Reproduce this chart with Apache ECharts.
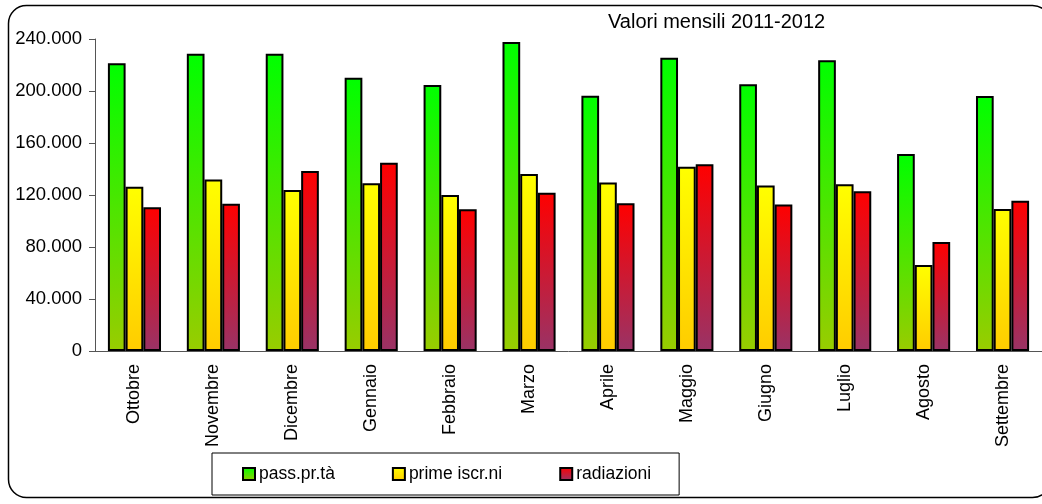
<!DOCTYPE html>
<html>
<head>
<meta charset="utf-8">
<script src="https://cdn.jsdelivr.net/npm/echarts@6/dist/echarts.min.js"></script>
<style>
  html, body { margin: 0; padding: 0; background: #fff; }
  #chart { width: 1042px; height: 504px; }
</style>
</head>
<body>
<div id="chart"></div>
<script>
// mesi (ottobre 2011 - settembre 2012)
var mesi = ['Ottobre', 'Novembre', 'Dicembre', 'Gennaio', 'Febbraio', 'Marzo',
            'Aprile', 'Maggio', 'Giugno', 'Luglio', 'Agosto', 'Settembre'];

// valori
var passaggi = [221300, 228700, 228700, 210200, 204600, 237700, 196400, 225600, 205100, 223600, 151500, 196200];
var primeIscr = [126400, 132000, 123800, 129000, 120000, 136200, 129700, 141800, 127400, 128200, 66200, 109200];
var radiazioni = [110500, 113300, 138500, 144800, 109000, 121800, 113600, 143600, 112600, 122800, 83800, 115600];

var nomiSerie = ['pass.pr.tà', 'prime iscr.ni', 'radiazioni'];

var font = 'Arial, "Liberation Sans", sans-serif';

function gradiente(alto, basso) {
  return new echarts.graphic.LinearGradient(0, 0, 0, 1, [
    { offset: 0, color: alto },
    { offset: 1, color: basso }
  ]);
}

function serie(nome, dati, alto, basso) {
  return {
    name: nome,
    type: 'bar',
    data: dati,
    barWidth: 17.7,
    barGap: '0%',
    itemStyle: {
      color: gradiente(alto, basso),
      borderColor: '#000',
      borderWidth: 2
    }
  };
}

var grafico = echarts.init(document.getElementById('chart'));

var option = {
  animation: false,
  backgroundColor: '#fff',
  textStyle: { fontFamily: font },
  graphic: [{
    type: 'rect',
    shape: { x: 8.5, y: 5.5, width: 1042, height: 492, r: 18 },
    style: { fill: 'none', stroke: '#000', lineWidth: 1.5 },
    z: -1
  }],
  title: {
    text: 'Valori mensili 2011-2012',
    left: 608,
    top: 12,
    padding: 0,
    textStyle: { fontFamily: font, fontSize: 20, fontWeight: 'normal', color: '#000' }
  },
  legend: {
    data: nomiSerie,
    icon: 'rect',
    left: 212,
    top: 453,
    padding: [12, 28, 12, 30],
    itemGap: 57,
    itemWidth: 12,
    itemHeight: 12,
    itemStyle: { borderColor: '#000', borderWidth: 2 },
    borderColor: '#000',
    borderWidth: 1,
    textStyle: { fontFamily: font, fontSize: 17.5, color: '#000', padding: [0, 0, 0, -1] }
  },
  grid: {
    left: 95,
    top: 39,
    width: 958,
    height: 312
  },
  xAxis: {
    type: 'category',
    data: mesi,
    axisLine: { lineStyle: { color: '#555', width: 1 } },
    axisTick: { alignWithLabel: false, length: 5, lineStyle: { color: '#555' } },
    axisLabel: {
      rotate: 90,
      margin: 13,
      interval: 0,
      fontFamily: font,
      fontSize: 18,
      color: '#000'
    }
  },
  yAxis: {
    type: 'value',
    min: 0,
    max: 240000,
    interval: 40000,
    splitLine: { show: false },
    axisLine: { show: true, lineStyle: { color: '#555', width: 1 } },
    axisTick: { show: true, length: 6, lineStyle: { color: '#555' } },
    axisLabel: {
      margin: 13,
      fontFamily: font,
      fontSize: 18.5,
      color: '#000',
      formatter: function (v) {
        return String(v).replace(/\B(?=(\d{3})+(?!\d))/g, '.');
      }
    }
  },
  series: [
    serie(nomiSerie[0], passaggi, '#00ff00', '#99cc00'),
    serie(nomiSerie[1], primeIscr, '#ffff00', '#ffcc00'),
    serie(nomiSerie[2], radiazioni, '#ff0000', '#993366')
  ]
};

grafico.setOption(option);
</script>
</body>
</html>
